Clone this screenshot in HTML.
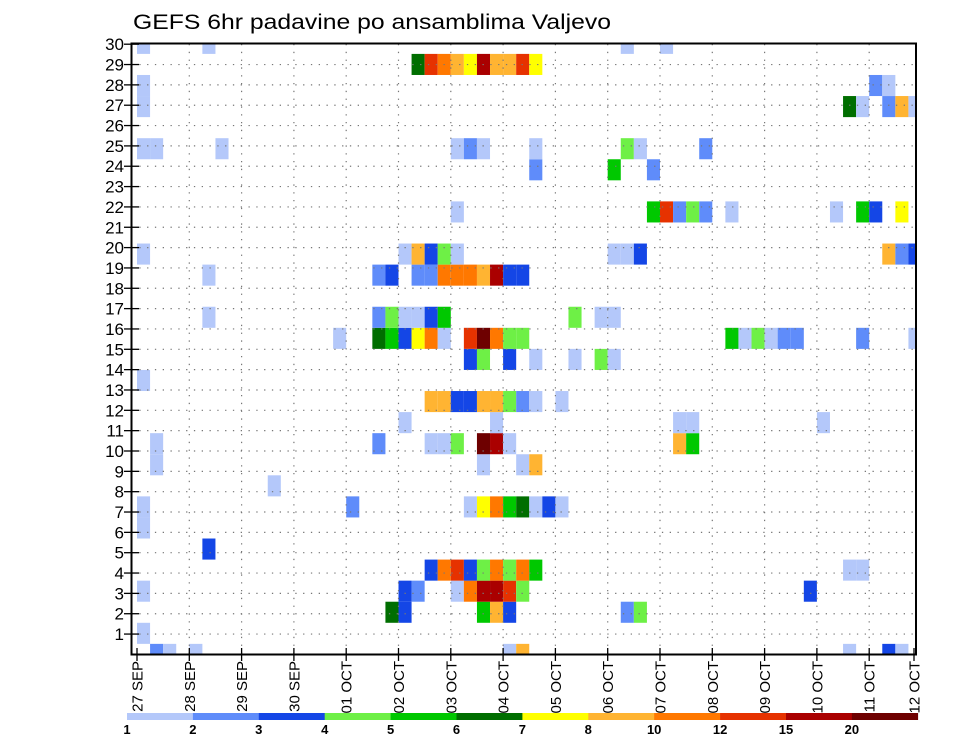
<!DOCTYPE html>
<html><head><meta charset="utf-8"><style>
html,body{margin:0;padding:0;background:#fff;}
svg{display:block;font-family:"Liberation Sans",sans-serif;}
</style></head><body>
<svg id="chart" width="960" height="742" viewBox="0 0 960 742" xmlns="http://www.w3.org/2000/svg">
<text x="133" y="29" font-size="21" textLength="478" lengthAdjust="spacingAndGlyphs">GEFS 6hr padavine po ansamblima Valjevo</text>
<g id="cells"></g>
<g id="grid"></g>
<rect x="131.5" y="43.5" width="784.5" height="611" fill="none" stroke="#000" stroke-width="2"/>
<g id="yaxis"></g>
<g id="xaxis"></g>
<g id="legend"></g>
</svg>
<script>
// Data: precipitation per ensemble member (index 0..29) as [6h step, mm]
const memberRows = [
/*0*/ [[1,2.5],[2,1.5],[4,1.5],[28,1.5],[29,9],[54,1.5],[57,3.5],[58,1.5]],
/*1*/ [[0,1.5]],
/*2*/ [[19,6.5],[20,3.5],[26,5.5],[27,9],[28,3.5],[37,2.5],[38,4.5]],
/*3*/ [[0,1.5],[20,3.5],[21,2.5],[24,1.5],[25,11],[26,17.5],[27,17.5],[28,13.5],[29,4.5],[51,3.5]],
/*4*/ [[22,3.5],[23,11],[24,13.5],[25,3.5],[26,4.5],[27,11],[28,4.5],[29,11],[30,5.5],[54,1.5],[55,1.5]],
/*5*/ [[5,3.5]],
/*6*/ [[0,1.5]],
/*7*/ [[0,1.5],[16,2.5],[25,1.5],[26,7.5],[27,11],[28,5.5],[29,6.5],[30,1.5],[31,3.5],[32,1.5]],
/*8*/ [[10,1.5]],
/*9*/ [[1,1.5],[26,1.5],[29,1.5],[30,9]],
/*10*/ [[1,1.5],[18,2.5],[22,1.5],[23,1.5],[24,4.5],[26,25],[27,17.5],[28,1.5],[41,9],[42,5.5]],
/*11*/ [[20,1.5],[27,1.5],[41,1.5],[42,1.5],[52,1.5]],
/*12*/ [[22,9],[23,9],[24,3.5],[25,3.5],[26,9],[27,9],[28,4.5],[29,2.5],[30,1.5],[32,1.5]],
/*13*/ [[0,1.5]],
/*14*/ [[25,3.5],[26,4.5],[28,3.5],[30,1.5],[33,1.5],[35,4.5],[36,1.5]],
/*15*/ [[15,1.5],[18,6.5],[19,5.5],[20,3.5],[21,7.5],[22,11],[23,1.5],[25,13.5],[26,25],[27,11],[28,4.5],[29,4.5],[45,5.5],[46,1.5],[47,4.5],[48,1.5],[49,2.5],[50,2.5],[55,2.5],[59,1.5]],
/*16*/ [[5,1.5],[18,2.5],[19,4.5],[20,1.5],[21,1.5],[22,3.5],[23,5.5],[33,4.5],[35,1.5],[36,1.5]],
/*17*/ [],
/*18*/ [[5,1.5],[18,2.5],[19,3.5],[21,2.5],[22,2.5],[23,11],[24,11],[25,11],[26,9],[27,17.5],[28,3.5],[29,3.5]],
/*19*/ [[0,1.5],[20,1.5],[21,9],[22,3.5],[23,4.5],[24,1.5],[36,1.5],[37,1.5],[38,3.5],[57,9],[58,2.5],[59,3.5]],
/*20*/ [],
/*21*/ [[24,1.5],[39,5.5],[40,13.5],[41,2.5],[42,4.5],[43,2.5],[45,1.5],[53,1.5],[55,5.5],[56,3.5],[58,7.5]],
/*22*/ [],
/*23*/ [[30,2.5],[36,5.5],[39,2.5]],
/*24*/ [[0,1.5],[1,1.5],[6,1.5],[24,1.5],[25,2.5],[26,1.5],[30,1.5],[37,4.5],[38,1.5],[43,2.5]],
/*25*/ [],
/*26*/ [[0,1.5],[54,6.5],[55,1.5],[57,2.5],[58,9],[59,1.5]],
/*27*/ [[0,1.5],[56,2.5],[57,1.5]],
/*28*/ [[21,6.5],[22,13.5],[23,11],[24,9],[25,7.5],[26,17.5],[27,9],[28,9],[29,13.5],[30,7.5]],
/*29*/ [[0,1.5],[5,1.5],[37,1.5],[40,1.5]]
];
const levels = [1,2,3,4,5,6,7,8,10,12,15,20];
const levelLabels = ["1","2","3","4","5","6","7","8","10","12","15","20"];
const levelColors = ["#b4c8fa","#5f8cfa","#1446e6","#6ef046","#00c800","#006e00","#ffff00","#ffb432","#ff7800","#e63200","#aa0000","#6e0000"];
const dayLabels = ["27 SEP","28 SEP","29 SEP","30 SEP","01 OCT","02 OCT","03 OCT","04 OCT","05 OCT","06 OCT","07 OCT","08 OCT","09 OCT","10 OCT","11 OCT","12 OCT"];
const yTicks = [1,2,3,4,5,6,7,8,9,10,11,12,13,14,15,16,17,18,19,20,21,22,23,24,25,26,27,28,29,30];

const NS="http://www.w3.org/2000/svg";
const L=131.5,R=916,T=44,B=655;
const X0=137, STEP=13.075, DAY=52.3;
const CELLH=21.07, CY0=654.4;
function xStep(s){return X0+s*STEP;}
function xDay(d){return X0+d*DAY;}
function yMember(m){return CY0-m*CELLH;}
function yTick(v){return 654.4-v*20.34;}
function colorFor(v){let c=null;for(let i=0;i<levels.length;i++){if(v>=levels[i])c=levelColors[i];}return c;}
function mk(tag,attrs,parent){const e=document.createElementNS(NS,tag);for(const k in attrs)e.setAttribute(k,attrs[k]);parent.appendChild(e);return e;}

const cells=document.getElementById('cells');
memberRows.forEach((row,m)=>{
  row.forEach(([s,v])=>{
    const col=colorFor(v); if(!col) return;
    let x1=xStep(s), x2=xStep(s+1);
    let y1=yMember(m)-CELLH/2, y2=yMember(m)+CELLH/2;
    x1=Math.max(x1,L);x2=Math.min(x2,R);y1=Math.max(y1,T);y2=Math.min(y2,B);
    if(x2<=x1||y2<=y1) return;
    const r=mk('rect',{x:x1,y:y1,width:x2-x1,height:y2-y1,fill:col},cells);
    
    
  });
});

const grid=document.getElementById('grid');
yTicks.forEach(v=>{
  if(v>=30) return;
  const y=yTick(v);
  const l=mk('line',{x1:L,x2:R,y1:y,y2:y,stroke:'#777','stroke-width':1.2,'stroke-dasharray':'1.3 6.5'},grid);
  
  
});
for(let d=1;d<15;d++){
  const x=xDay(d);
  const l=mk('line',{x1:x,x2:x,y1:T,y2:B,stroke:'#777','stroke-width':1.2,'stroke-dasharray':'1.3 6.5'},grid);
  
  
}

const yax=document.getElementById('yaxis');
yTicks.forEach(v=>{
  const y=yTick(v);
  const t=mk('line',{x1:124,x2:139,y1:y,y2:y,stroke:'#000','stroke-width':1.3},yax);
  
  
  const tx=mk('text',{x:124,y:y+6,'font-size':17,'text-anchor':'end'},yax);
  tx.textContent=v;
  
  
});

const xax=document.getElementById('xaxis');
dayLabels.forEach((lab,d)=>{
  let x=Math.min(xDay(d),914);
  const t=mk('line',{x1:x,x2:x,y1:648,y2:661,stroke:'#000','stroke-width':1.3},xax);
  
  
  const tx=mk('text',{x:0,y:0,'font-size':15,'text-anchor':'end',transform:`translate(${x+5.5},661) rotate(-90)`},xax);
  tx.textContent=lab;
  
  
});

const leg=document.getElementById('legend');
const LX=127, LW=65.9;
levelColors.forEach((c,i)=>{
  const r=mk('rect',{x:LX+i*LW,y:713,width:LW+0.3,height:7,fill:c},leg);
  
  
  const tx=mk('text',{x:LX+i*LW,y:734,'font-size':13,'font-weight':'bold','text-anchor':'middle'},leg);
  tx.textContent=levelLabels[i];
  
  
});
</script>
</body></html>
